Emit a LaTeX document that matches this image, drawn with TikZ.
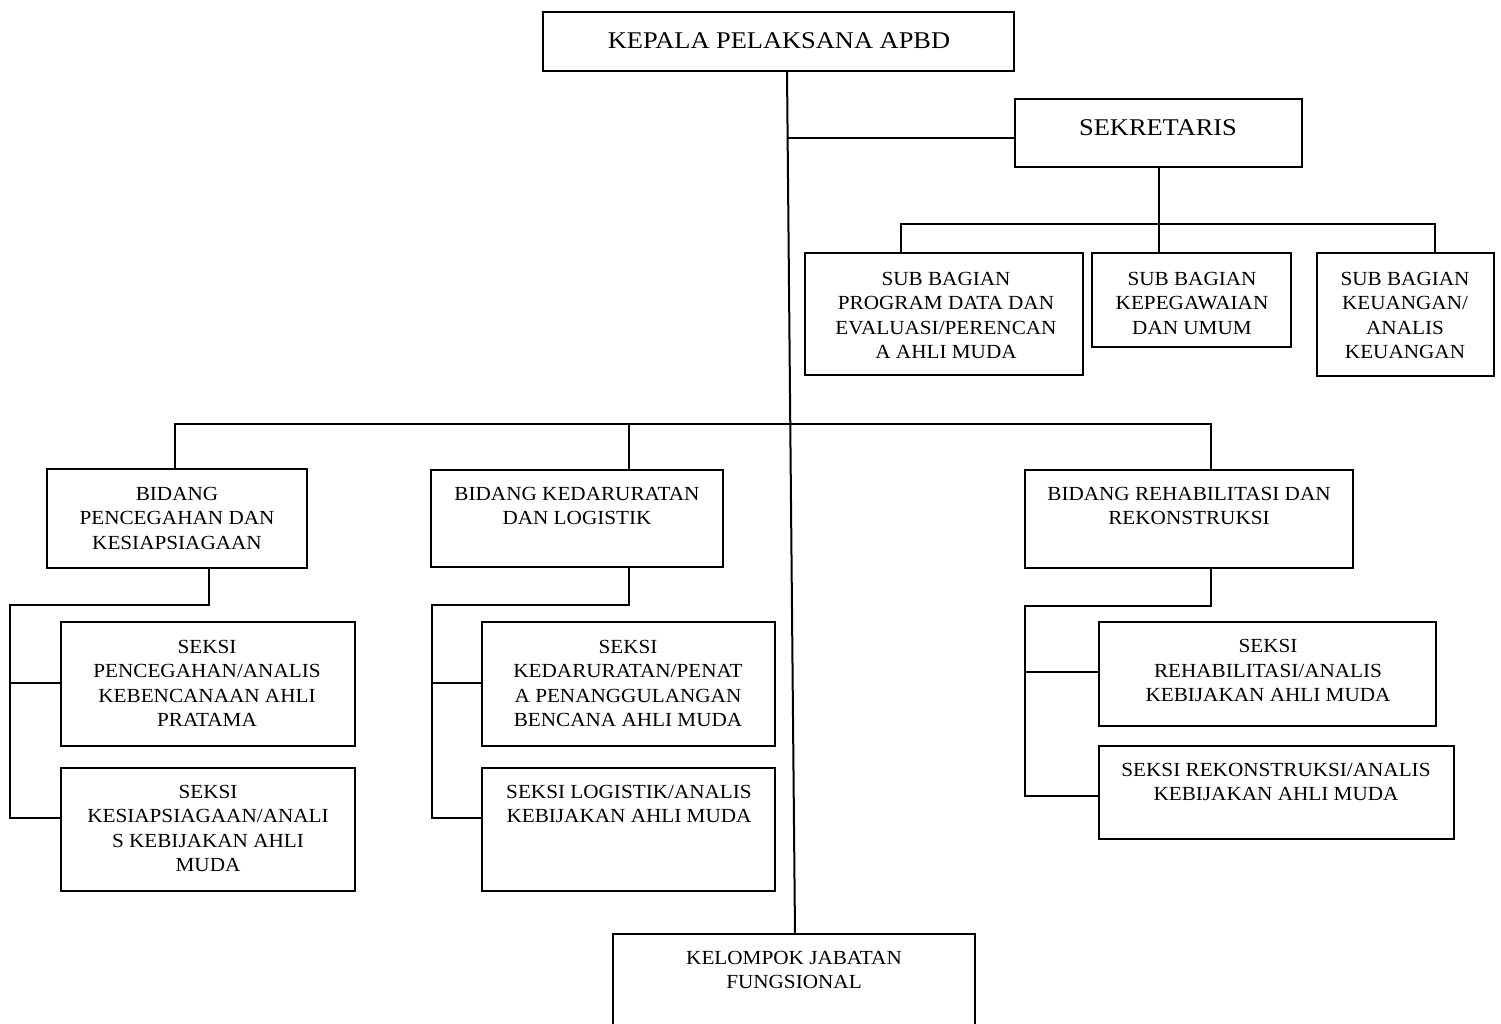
\documentclass[tikz,border=0pt]{standalone}
\usepackage{fontspec}
\setmainfont{Liberation Serif}[FakeStretch=1.06]
\newfontfamily\titlefont{Liberation Serif}[FakeStretch=1.1]
\tikzset{
  orgbox/.style={draw=black, line width=2pt, inner sep=0pt, outer sep=0pt},
  lbl/.style={inner sep=0pt, outer sep=0pt, anchor=base, font=\fontsize{20}{24.5}\selectfont},
  ttl/.style={inner sep=0pt, outer sep=0pt, anchor=base, font=\titlefont\fontsize{24}{28}\selectfont},
  conn/.style={line width=2pt, line join=miter},
}
\newcommand\orgrect[5]{\node[orgbox, minimum width={#4-#2}, minimum height={#5-#3}] (#1) at ({(#2+#4)/2},{(#3+#5)/2}) {};}
\newcommand\orglines[1]{\begin{tabular}[t]{@{}c@{}}#1\end{tabular}}
\begin{document}
\begin{tikzpicture}[x=1pt,y=-1pt]
\useasboundingbox (0,0) rectangle (1501,1024);
\fill[white] (0,0) rectangle (1501,1024);
\clip (0,0) rectangle (1501,1024);

% boxes
\orgrect{kepala}{543}{12}{1014}{71}
\orgrect{sek}{1015}{99}{1302}{167}
\orgrect{sb1}{805}{253}{1083}{375}
\orgrect{sb2}{1092}{253}{1291}{347}
\orgrect{sb3}{1317}{253}{1494}{376}
\orgrect{bid1}{47}{469}{307}{568}
\orgrect{bid2}{431}{470}{723}{567}
\orgrect{bid3}{1025}{470}{1353}{568}
\orgrect{s1}{61}{622}{355}{746}
\orgrect{s2}{61}{768}{355}{891}
\orgrect{s3}{482}{622}{775}{746}
\orgrect{s4}{482}{768}{775}{891}
\orgrect{s5}{1099}{622}{1436}{726}
\orgrect{s6}{1099}{746}{1454}{839}
\orgrect{kel}{613}{934}{975}{1040}

% texts
\node[ttl] (t-kepala) at (779,48.5) {KEPALA PELAKSANA APBD};
\node[ttl] (t-sek) at (1158,135.7) {SEKRETARIS};
\node[lbl] (t-sb1) at (946,285) {\orglines{SUB BAGIAN\\PROGRAM DATA DAN\\EVALUASI/PERENCAN\\A AHLI MUDA}};
\node[lbl] (t-sb2) at (1192,285) {\orglines{SUB BAGIAN\\KEPEGAWAIAN\\DAN UMUM}};
\node[lbl] (t-sb3) at (1405,285) {\orglines{SUB BAGIAN\\KEUANGAN/\\ANALIS\\KEUANGAN}};
\node[lbl] (t-bid1) at (177,500) {\orglines{BIDANG\\PENCEGAHAN DAN\\KESIAPSIAGAAN}};
\node[lbl] (t-bid2) at (577,500) {\orglines{BIDANG KEDARURATAN\\DAN LOGISTIK}};
\node[lbl] (t-bid3) at (1189,500) {\orglines{BIDANG REHABILITASI DAN\\REKONSTRUKSI}};
\node[lbl] (t-s1) at (207,653) {\orglines{SEKSI\\PENCEGAHAN/ANALIS\\KEBENCANAAN AHLI\\PRATAMA}};
\node[lbl] (t-s2) at (208,798) {\orglines{SEKSI\\KESIAPSIAGAAN/ANALI\\S KEBIJAKAN AHLI\\MUDA}};
\node[lbl] (t-s3) at (628,653) {\orglines{SEKSI\\KEDARURATAN/PENAT\\A PENANGGULANGAN\\BENCANA AHLI MUDA}};
\node[lbl] (t-s4) at (629,798) {\orglines{SEKSI LOGISTIK/ANALIS\\KEBIJAKAN AHLI MUDA}};
\node[lbl] (t-s5) at (1268,652.7) {\orglines{SEKSI\\REHABILITASI/ANALIS\\KEBIJAKAN AHLI MUDA}};
\node[lbl] (t-s6) at (1276,776) {\orglines{SEKSI REKONSTRUKSI/ANALIS\\KEBIJAKAN AHLI MUDA}};
\node[lbl] (t-kel) at (794,964) {\orglines{KELOMPOK JABATAN\\FUNGSIONAL}};

% main spine
\draw[conn] ([xshift=8.5pt]kepala.south) -- ([xshift=1pt]kel.north);
\coordinate (jsek) at (787.6,138);
\draw[conn] (jsek) -- (jsek -| sek.west);

% sekretaris branch
\coordinate (sbar1) at (901,224);
\coordinate (sbar3) at (1435,224);
\draw[conn] (sek.south) -- (sek.south |- sb2.north);
\draw[conn] (sb1.north -| sbar1) -- (sbar1) -- (sbar3) -- (sb3.north -| sbar3);

% bidang bar
\coordinate (bbar1) at (175,424);
\coordinate (bbar2) at (629,424);
\coordinate (bbar3) at (1211,424);
\draw[conn] (bid1.north -| bbar1) -- (bbar1) -- (bbar3) -- (bid3.north -| bbar3);
\draw[conn] (bbar2) -- (bid2.north -| bbar2);

% bidang 1 sub tree
\coordinate (p1a) at (209,605);
\coordinate (p1b) at (10,605);
\coordinate (p1c) at (10,683);
\coordinate (p1d) at (10,818);
\draw[conn] (bid1.south -| p1a) -- (p1a) -- (p1b) -- (p1d) -- (p1d -| s2.west);
\draw[conn] (p1c) -- (p1c -| s1.west);

% bidang 2 sub tree
\coordinate (p2a) at (629,605);
\coordinate (p2b) at (432,605);
\coordinate (p2c) at (432,683);
\coordinate (p2d) at (432,818);
\draw[conn] (bid2.south -| p2a) -- (p2a) -- (p2b) -- (p2d) -- (p2d -| s4.west);
\draw[conn] (p2c) -- (p2c -| s3.west);

% bidang 3 sub tree
\coordinate (p3a) at (1211,605.7);
\coordinate (p3b) at (1025,605.7);
\coordinate (p3c) at (1025,672);
\coordinate (p3d) at (1025,796);
\draw[conn] (bid3.south -| p3a) -- (p3a) -- (p3b) -- (p3d) -- (p3d -| s6.west);
\draw[conn] (p3c) -- (p3c -| s5.west);
\end{tikzpicture}
\end{document}
